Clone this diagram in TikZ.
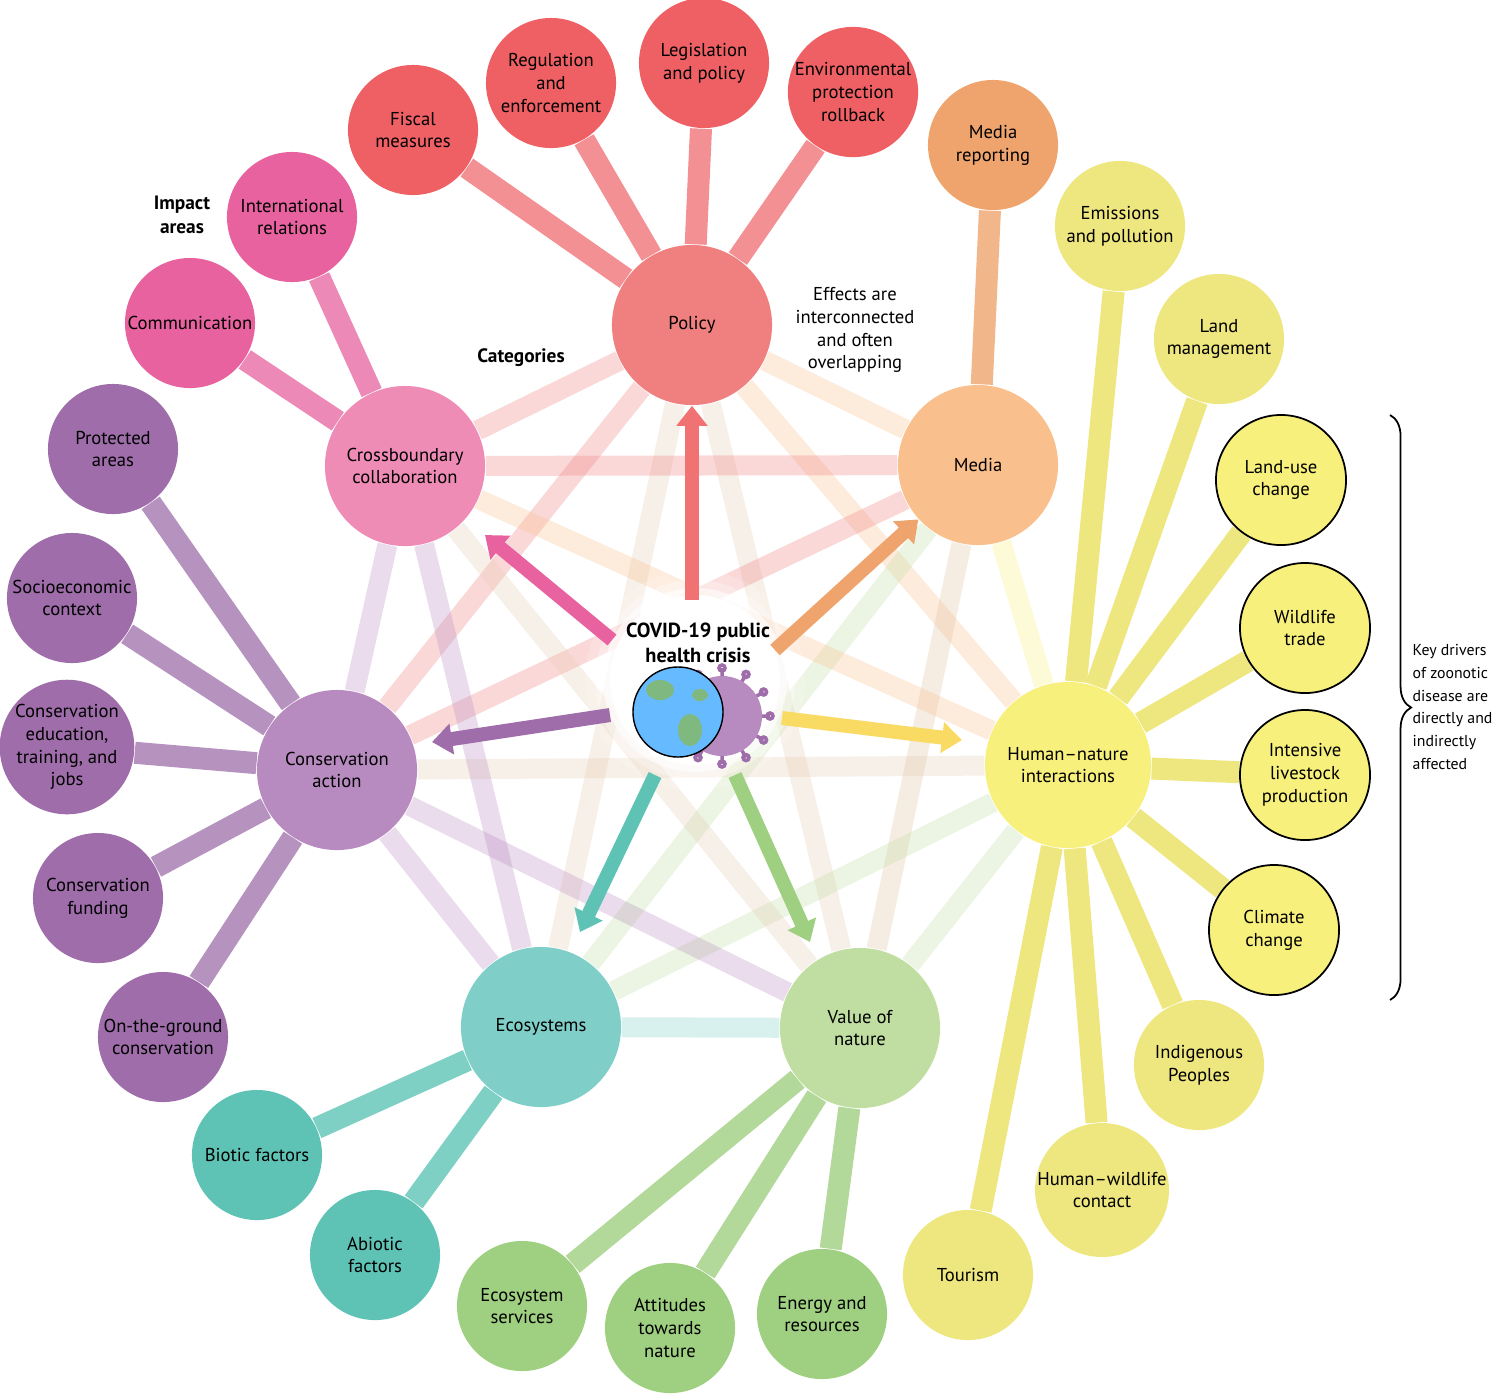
\documentclass[tikz,border=0pt]{standalone}
\usepackage{fontspec}
\setmainfont{PT Sans}
\usetikzlibrary{arrows.meta,backgrounds,decorations.pathreplacing}
\definecolor{polC}{HTML}{F07F7F}\definecolor{polI}{HTML}{EE6064}
\definecolor{medC}{HTML}{F9BF8C}\definecolor{medI}{HTML}{EFA46E}
\definecolor{humC}{HTML}{F8F07C}\definecolor{humI}{HTML}{EEE67E}
\definecolor{valC}{HTML}{C0DEA2}\definecolor{valI}{HTML}{9FCF80}
\definecolor{ecoC}{HTML}{7FCFC8}\definecolor{ecoI}{HTML}{5EC3B5}
\definecolor{conC}{HTML}{B88BC0}\definecolor{conI}{HTML}{9E6DAA}
\definecolor{croC}{HTML}{EE8CB6}\definecolor{croI}{HTML}{E7629F}
\tikzset{
  cat/.style={circle, minimum size=1.6cm, inner sep=0pt, align=center, font=\fontsize{5.3}{6.5}\selectfont},
  imp/.style={circle, minimum size=1.3cm, inner sep=0pt, align=center, font=\fontsize{5.3}{6.5}\selectfont},
  drv/.style={imp, draw=black, line width=0.5pt},
  link/.style={line width=0.22cm},
  cross/.style={line width=0.2cm, opacity=0.3},
  burst/.style={line width=0.14cm, -{Triangle[length=0.2cm, width=0.3cm]}},
  lbl/.style={align=center, font=\fontsize{5.3}{6.5}\selectfont}
}
\begin{document}
\begin{tikzpicture}[x=0.01cm, y=-0.01cm]
    \useasboundingbox (0,0) rectangle (1500,1396);
    % categories
    \node[cat, fill=polC] (pol) at (692,325) {Policy};
    \node[cat, fill=medC] (med) at (978,465) {Media};
    \node[cat, fill=humC, minimum size=1.66cm] (hum) at (1068,765) {Human--nature\\interactions};
    \node[cat, fill=valC] (val) at (860,1028) {Value of\\nature};
    \node[cat, fill=ecoC] (eco) at (541,1027) {Ecosystems};
    \node[cat, fill=conC] (con) at (337,770) {Conservation\\action};
    \node[cat, fill=croC] (cro) at (405,466) {Crossboundary\\collaboration};
    % impact areas
    \node[imp, fill=polI] (fis) at (413,130) {Fiscal\\measures};
    \node[imp, fill=polI] (reg) at (551,83) {Regulation\\and\\enforcement};
    \node[imp, fill=polI] (leg) at (704,63) {Legislation\\and policy};
    \node[imp, fill=polI] (env) at (853,92) {Environmental\\protection\\rollback};
    \node[imp, fill=medI] (rep) at (993,145) {Media\\reporting};
    \node[imp, fill=humI] (emi) at (1120,226) {Emissions\\and pollution};
    \node[imp, fill=humI] (lan) at (1219,339) {Land\\management};
    \node[drv, fill=humC] (luc) at (1281,480) {Land-use\\change};
    \node[drv, fill=humC] (wil) at (1305,628) {Wildlife\\trade};
    \node[drv, fill=humC] (liv) at (1305,775) {Intensive\\livestock\\production};
    \node[drv, fill=humC] (cli) at (1274,930) {Climate\\change};
    \node[imp, fill=humI] (ind) at (1199,1065) {Indigenous\\Peoples};
    \node[imp, fill=humI] (hwc) at (1102,1190) {Human--wildlife\\contact};
    \node[imp, fill=humI] (tou) at (968,1275) {Tourism};
    \node[imp, fill=valI] (ene) at (822,1314) {Energy and\\resources};
    \node[imp, fill=valI] (att) at (670,1328) {Attitudes\\towards\\nature};
    \node[imp, fill=valI] (ser) at (522,1306) {Ecosystem\\services};
    \node[imp, fill=ecoI] (bio) at (257,1155) {Biotic factors};
    \node[imp, fill=ecoI] (abi) at (375,1255) {Abiotic\\factors};
    \node[imp, fill=conI] (pro) at (113,449) {Protected\\areas};
    \node[imp, fill=conI] (soc) at (72,598) {Socioeconomic\\context};
    \node[imp, fill=conI] (edu) at (67,747) {Conservation\\education,\\training, and\\jobs};
    \node[imp, fill=conI] (fun) at (98,898) {Conservation\\funding};
    \node[imp, fill=conI] (otg) at (163,1037) {On-the-ground\\conservation};
    \node[imp, fill=croI] (com) at (190,323) {Communication};
    \node[imp, fill=croI] (int) at (292,217) {International\\relations};
    % centre
    \foreach \r/\o in {110/0.15,100/0.3,92/0.6,85/1}
        \fill[white, opacity=\o] (695,680) circle (\r);
    \node[lbl, font=\bfseries\fontsize{5.8}{7}\selectfont] (cov) at (698,643) {COVID-19 public\\health crisis};
    \fill[conC] (722,716) circle (40);
    \foreach \a in {0,30,...,330}
        \draw[conI, line width=1pt] (722,716) ++(\a:40) -- ++(\a:8) circle (3);
    \node[circle, minimum size=0.9cm, fill=blue!45!cyan!60, draw=black, line width=0.4pt] (glo) at (678,712) {};
    \fill[green!45!black!50] (660,690) ellipse (14 and 10) (690,730) ellipse (12 and 16) (700,695) ellipse (8 and 6);
    % links to impact areas
    \begin{pgfonlayer}{background}
        \foreach \a/\b in {fis/pol,reg/pol,leg/pol,env/pol}
            \draw[link, polI!70] (\a) -- (\b);
        \draw[link, medI!80] (rep) -- (med);
        \foreach \a in {emi,lan,luc,wil,liv,cli,ind,hwc,tou}
            \draw[link, humI] (\a) -- (hum);
        \foreach \a in {ene,att,ser}
            \draw[link, valI!80] (\a) -- (val);
        \foreach \a in {bio,abi}
            \draw[link, ecoI!80] (\a) -- (eco);
        \foreach \a in {pro,soc,edu,fun,otg}
            \draw[link, conI!75] (\a) -- (con);
        \foreach \a in {com,int}
            \draw[link, croI!75] (\a) -- (cro);
        % links between categories
        \foreach \a/\b/\c in {pol/med/medC,pol/hum/medC,pol/val/brown!40,pol/eco/brown!40,pol/con/polC,pol/cro/polC,
            med/hum/humC,med/val/brown!50,med/eco/valC,med/con/polC,med/cro/polC,
            hum/val/valC,hum/eco/valC,hum/con/brown!40,hum/cro/medC,
            val/eco/ecoC,val/con/conC,val/cro/brown!40,eco/con/conC,eco/cro/conC,con/cro/conC}
            \draw[cross, \c] (\a) -- (\b);
    \end{pgfonlayer}
    % arrows from the crisis
    \draw[burst, polC!90!red] (692,600) -- (pol);
    \draw[burst, medI] (775,650) -- (med);
    \draw[burst, humC!80!orange] (782,718) -- (962,740);
    \draw[burst, valI] (735,775) -- (810,942);
    \draw[burst, ecoI] (655,775) -- (580,932);
    \draw[burst, conI] (610,715) -- (432,742);
    \draw[burst, croI] (612,640) -- (485,535);
    % labels
    \node[lbl, font=\bfseries\fontsize{5.5}{7}\selectfont] (ia) at (182,215) {Impact\\areas};
    \node[lbl, font=\bfseries\fontsize{5.5}{7}\selectfont] (ca) at (521,358) {Categories};
    \node[lbl] (eff) at (855,330) {Effects are\\interconnected\\and often\\overlapping};
    \draw[decorate, decoration={brace, amplitude=6pt}, line width=0.5pt] (1390,415) -- (1390,1000);
    \node[lbl, align=left, anchor=west, inner sep=0pt, font=\fontsize{4.5}{6.5}\selectfont] (key) at (1412,707) {Key drivers\\of zoonotic\\disease are\\directly and\\indirectly\\affected};
\end{tikzpicture}
\end{document}
